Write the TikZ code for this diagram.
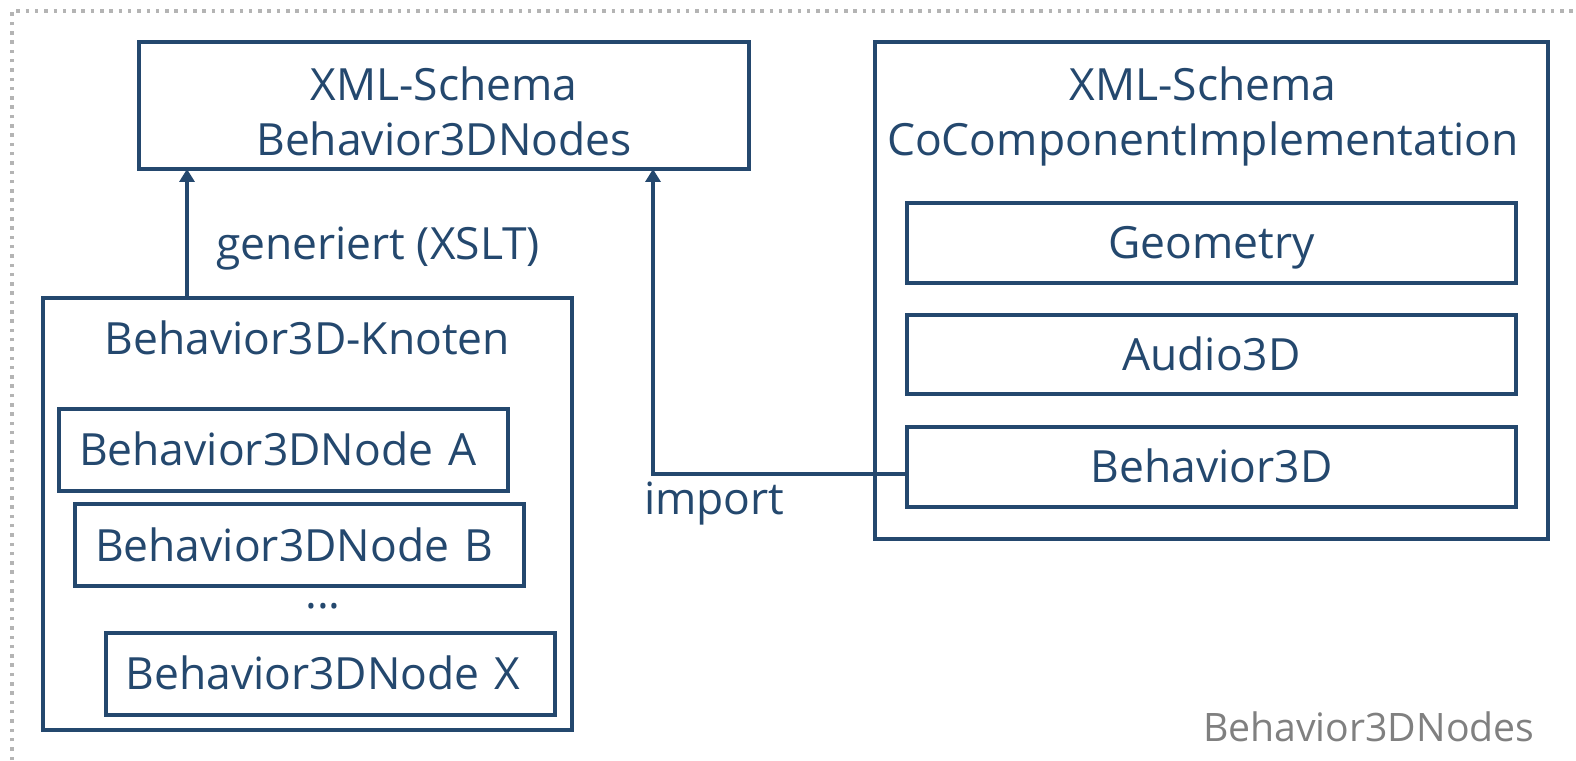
\documentclass[tikz,border=0pt]{standalone}
\usepackage{fontspec}
\setmainfont{Open Sans}
\usetikzlibrary{arrows.meta}
\definecolor{navy}{HTML}{24486E}
\definecolor{framegray}{HTML}{B4B4B4}
\definecolor{notegray}{HTML}{808080}
\begin{document}
\begin{tikzpicture}[x=1pt,y=1pt,
  font=\fontsize{44.4}{55}\selectfont,
  every node/.style={inner sep=0pt, outer sep=0pt, text=navy},
  frame/.style={draw=navy, line width=4pt, fill=white},
  itembox/.style={frame, text height=32pt, text depth=0pt},
  leftbox/.style={itembox, minimum height=82pt, text width=409pt,
                  inner xsep=20pt, align=left},
  txt/.style={anchor=base},
  conn/.style={draw=navy, line width=4pt,
               -{Triangle[width=15pt,length=13pt]}}]
  \useasboundingbox (0,0) rectangle (1576,760);

  % dotted outer frame (top and left edges)
  \draw[framegray, line width=3.5pt, dash pattern=on 3.5pt off 5.8pt]
    (12,0) -- (12,749) -- (1576,749);

  % schema Behavior3DNodes
  \node[frame, minimum width=610pt, minimum height=127pt] (xmlB) at (444,654.5) {};
  \node[txt] (xmlBa) at (444,659.5) {XML-Schema};
  \node[txt] (xmlBb) at (444,604) {Behavior3DNodes};

  % schema CoComponentImplementation
  \node[frame, minimum width=673pt, minimum height=497pt] (xmlC) at (1211.5,469.5) {};
  \node[txt] (xmlCa) at (1203,659.5) {XML-Schema};
  \node[txt] (xmlCb) at (1203,604) {CoComponentImplementation};
  \node[itembox, minimum width=609pt, minimum height=80pt] (geo) at (1211.5,517) {Geometry};
  \node[itembox, minimum width=609pt, minimum height=79pt] (aud) at (1211.5,405.5) {Audio3D};
  \node[itembox, minimum width=609pt, minimum height=80pt] (b3d) at (1211.5,293) {Behavior3D};

  % Behavior3D nodes
  \node[frame, minimum width=529pt, minimum height=432pt] (knoten) at (307.5,246) {};
  \node[txt] (knotenT) at (307.5,405) {Behavior3D-Knoten};
  \node[leftbox] (nodeA) at (283.5,310) {Behavior3DNode A};
  \node[leftbox] (nodeB) at (299.5,214.5) {Behavior3DNode B};
  \node[txt] (dots) at (323,151) {...};
  \node[leftbox] (nodeX) at (330,86) {Behavior3DNode X};

  % connectors
  \coordinate (genx) at (187,0);
  \coordinate (impx) at (653,0);
  \draw[conn] (knoten.north -| genx) -- (xmlB.south -| genx);
  \node[anchor=base west] (genL) at (216,500) {generiert (XSLT)};
  \draw[conn] ([yshift=-7pt]b3d.west) -| (xmlB.south -| impx);
  \node[anchor=base west] (impL) at (644,245) {import};

  % caption
  \node[anchor=base west, text=notegray, font=\fontsize{39.2}{48}\selectfont]
    (cap) at (1203,19) {Behavior3DNodes};
\end{tikzpicture}
\end{document}
